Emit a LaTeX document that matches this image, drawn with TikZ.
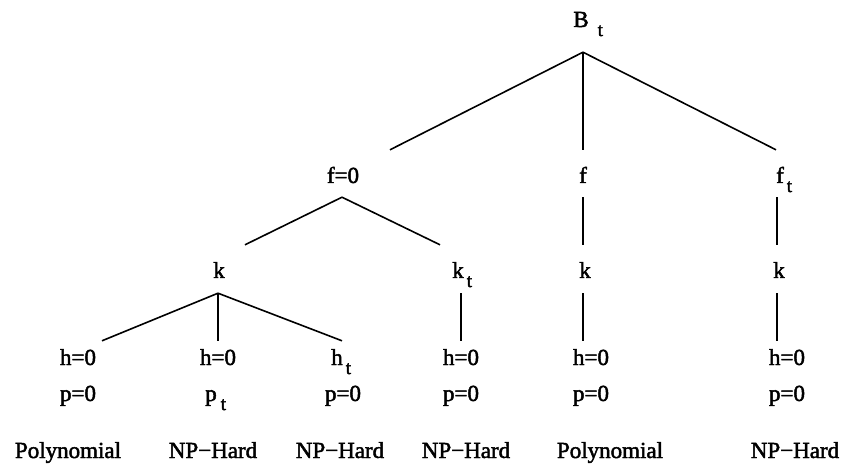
\documentclass[tikz,border=0pt]{standalone}
\usepackage{fontspec}
\setmainfont{Liberation Serif}
\newfontfamily\diagfont{Liberation Serif}[FakeBold=2]
\newcommand{\subtee}[1]{\rlap{\kern#1\raisebox{-9pt}{\fontsize{19}{19}\selectfont t}}}
\begin{document}
\begin{tikzpicture}[x=1pt,y=-1pt,
  lbl/.style={font=\diagfont\fontsize{23}{27}\selectfont, inner sep=0pt, anchor=base},
  toprow/.style={lbl, text height=16pt, text depth=25pt},
  frow/.style={lbl, text height=33pt, text depth=14pt},
  krow/.style={lbl, text height=33pt, text depth=15pt},
  hrow/.style={lbl, text height=24pt, text depth=0pt},
  prow/.style={lbl},
  result/.style={lbl},
  edge/.style={draw=black, line width=1.6pt}]
\useasboundingbox (0,0) rectangle (844,465);
% nodes
\node[toprow] (Bt) at (581,27) {B\subtee{9pt}};
\node[frow] (f0) at (343,183) {f=0};
\node[frow] (f)  at (583,183) {f};
\node[frow] (ft) at (780,183) {f\subtee{3pt}};
\node[krow] (k2) at (219,278) {k};
\node[krow] (kt) at (458,278) {k\subtee{3pt}};
\node[krow] (k5) at (585,278) {k};
\node[krow] (k6) at (779,278) {k};
\node[hrow] (h1) at (78,365) {h=0};
\node[hrow] (h2) at (218,365) {h=0};
\node[hrow] (h3) at (337,365) {h\subtee{3pt}};
\node[hrow] (h4) at (461,365) {h=0};
\node[hrow] (h5) at (591,365) {h=0};
\node[hrow] (h6) at (787,365) {h=0};
\node[prow] (p1) at (78,401) {p=0};
\node[prow] (p2) at (211,401) {p\subtee{4pt}};
\node[prow] (p3) at (343,401) {p=0};
\node[prow] (p4) at (461,401) {p=0};
\node[prow] (p5) at (591,401) {p=0};
\node[prow] (p6) at (787,401) {p=0};
\node[result] (r1) at (68,458) {Polynomial};
\node[result] (r2) at (213,458) {NP−Hard};
\node[result] (r3) at (340,458) {NP−Hard};
\node[result] (r4) at (466,458) {NP−Hard};
\node[result] (r5) at (610,458) {Polynomial};
\node[result] (r6) at (795,458) {NP−Hard};
% connectors
\draw[edge] ([xshift=2pt]Bt.south) -- ([xshift=47pt]f0.north);
\draw[edge] ([xshift=2pt]Bt.south) -- (f.north);
\draw[edge] ([xshift=2pt]Bt.south) -- ([xshift=-4pt]ft.north);
\draw[edge] ([xshift=-1pt]f0.south) -- ([xshift=26pt]k2.north);
\draw[edge] ([xshift=-1pt]f0.south) -- ([xshift=-18pt]kt.north);
\draw[edge] (f.south) -- ([xshift=-2pt]k5.north);
\draw[edge] ([xshift=-3pt]ft.south) -- ([xshift=-2pt]k6.north);
\draw[edge] ([xshift=-1pt]k2.south) -- ([xshift=24pt]h1.north);
\draw[edge] ([xshift=-1pt]k2.south) -- (h2.north);
\draw[edge] ([xshift=-1pt]k2.south) -- ([xshift=5pt]h3.north);
\draw[edge] ([xshift=3pt]kt.south) -- (h4.north);
\draw[edge] ([xshift=-2pt]k5.south) -- ([xshift=-8pt]h5.north);
\draw[edge] ([xshift=-2pt]k6.south) -- ([xshift=-10pt]h6.north);
\end{tikzpicture}
\end{document}
